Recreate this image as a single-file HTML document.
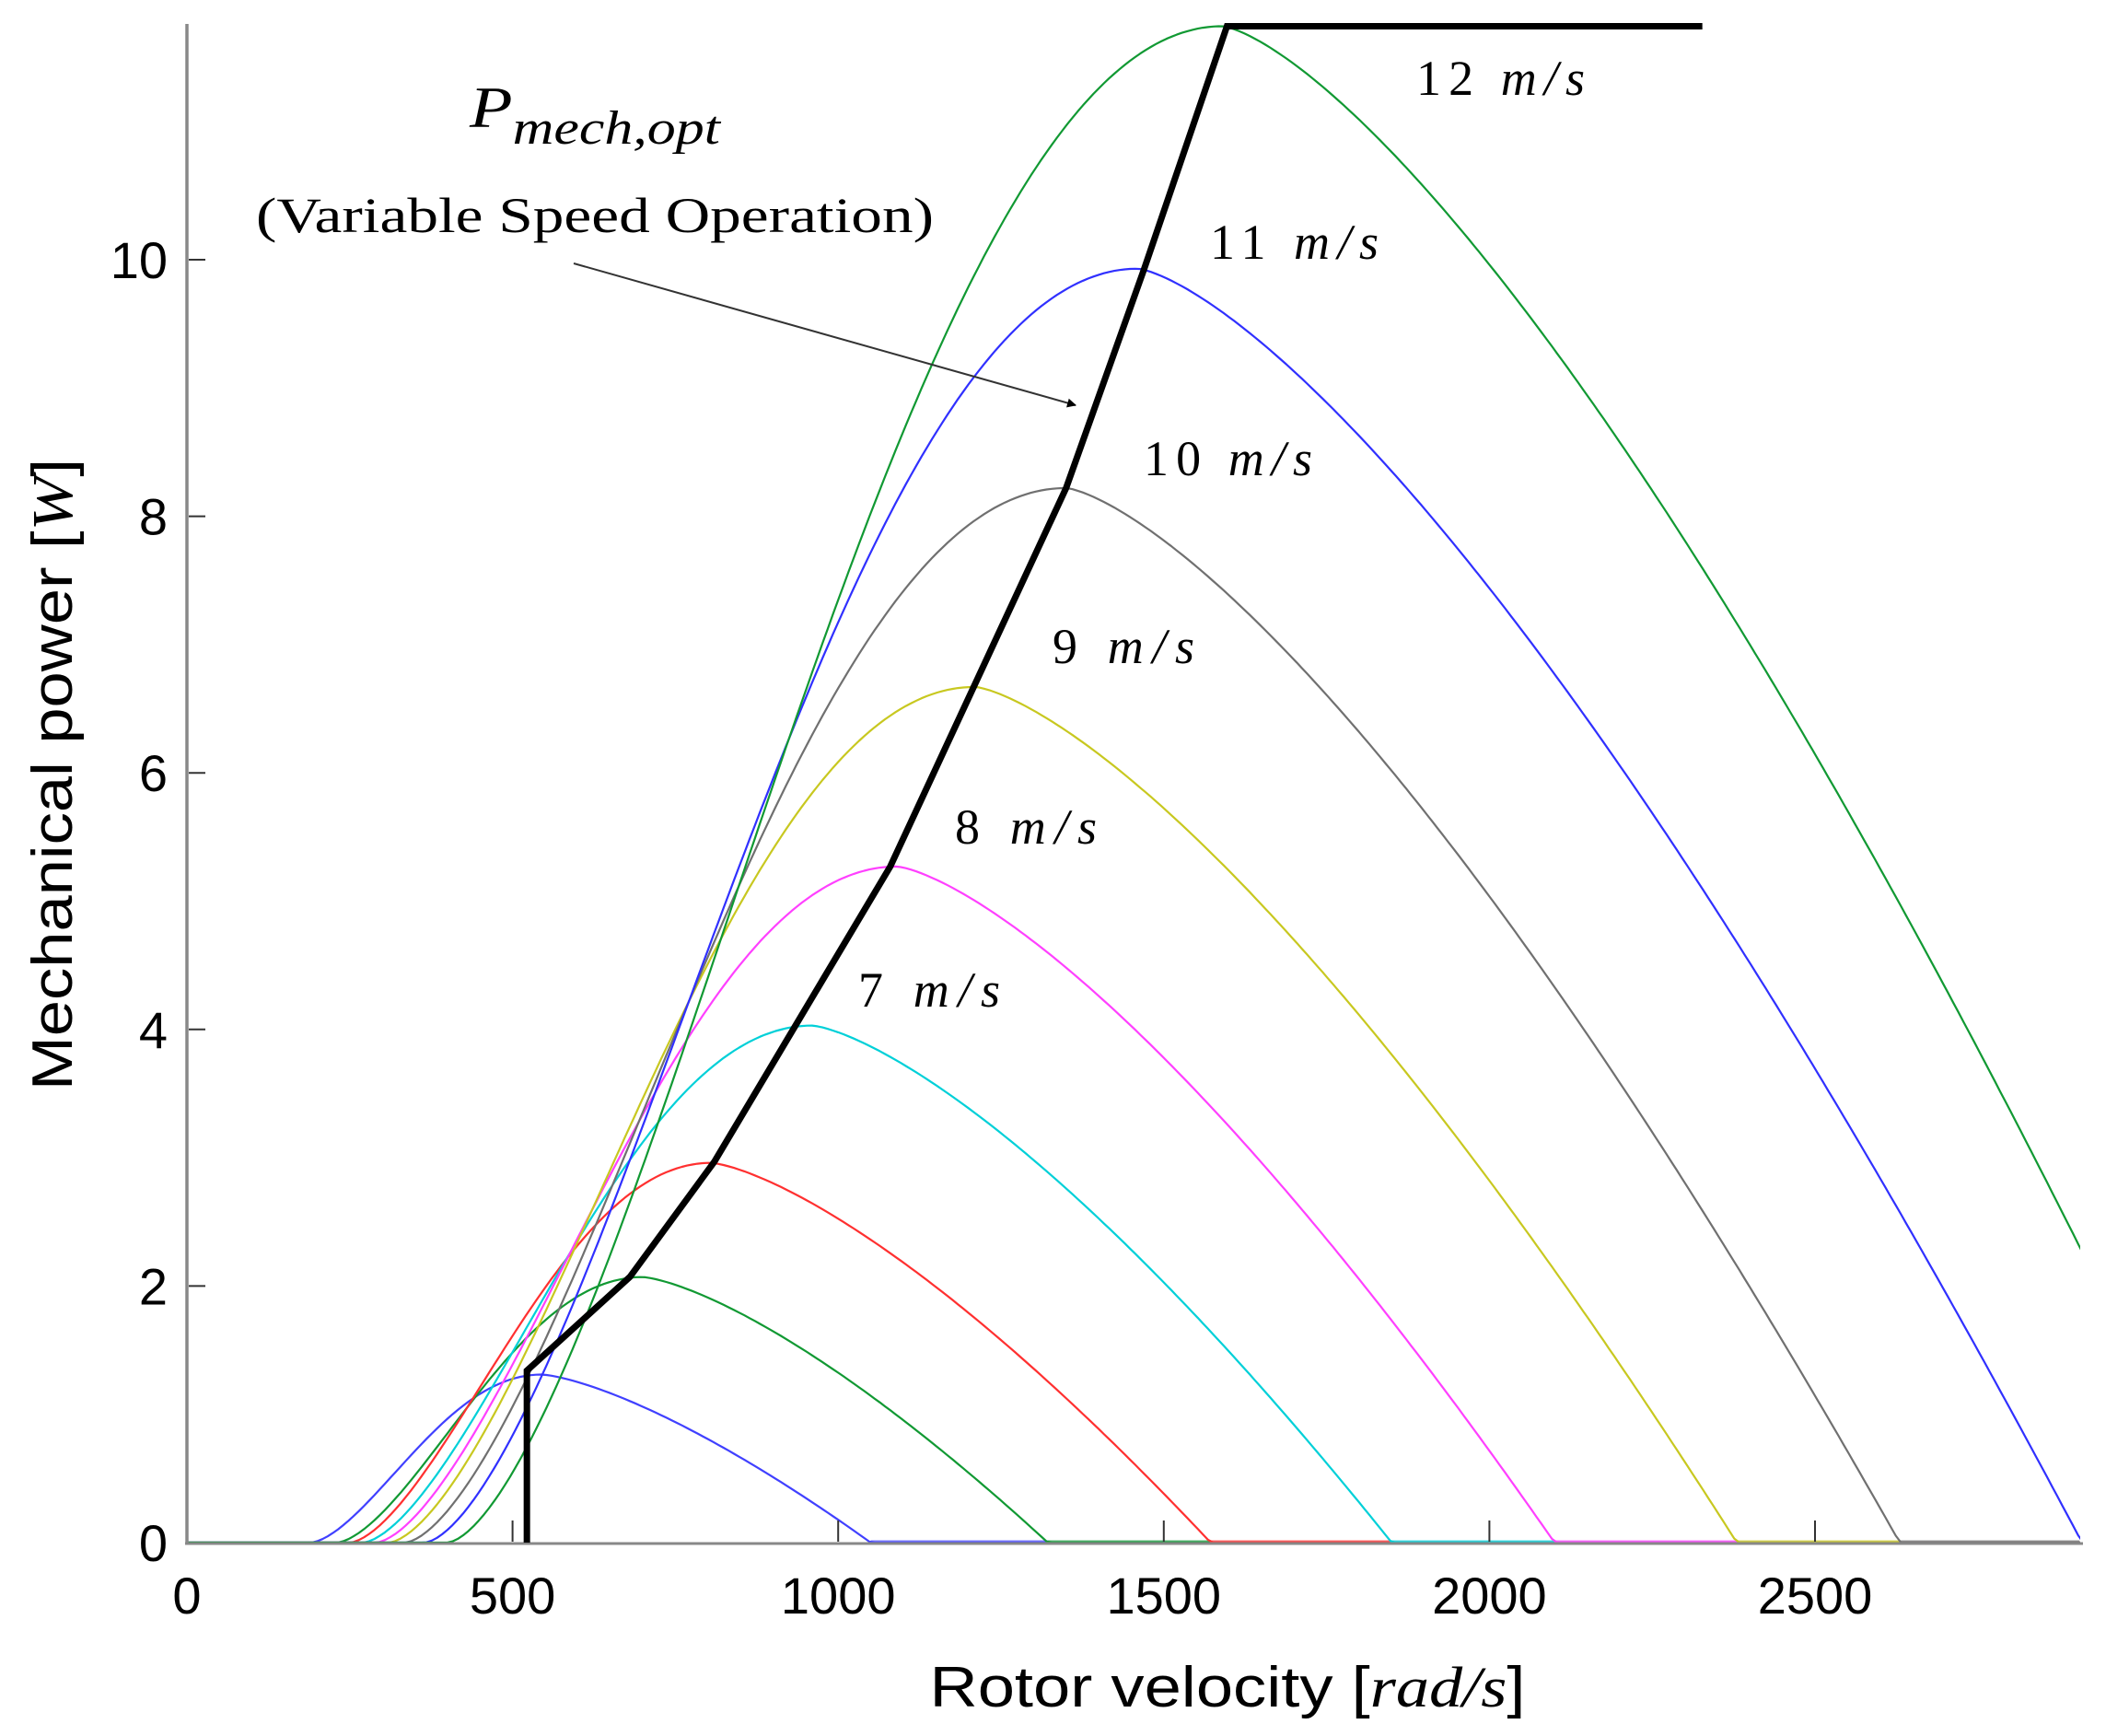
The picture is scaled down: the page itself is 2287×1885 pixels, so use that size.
<!DOCTYPE html>
<html><head><meta charset="utf-8"><style>
html,body{margin:0;padding:0;background:#fff;}
svg{display:block;}
</style></head><body>
<svg id="s" width="2287" height="1885" xmlns="http://www.w3.org/2000/svg">
<defs>
<clipPath id="c"><rect x="203" y="0" width="2056" height="1690"/></clipPath>
<marker id="ah" markerWidth="10" markerHeight="10" refX="9" refY="5" orient="auto" markerUnits="userSpaceOnUse"><path d="M0,0 L10,5 L0,10 z" fill="#000"/></marker>
</defs>
<g id="curves" clip-path="url(#c)" fill="none" stroke-width="2.2" stroke-linejoin="round"></g>
<line x1="203" y1="26" x2="203" y2="1677" stroke="#888" stroke-width="3.5"/>
<line x1="201" y1="1676" x2="2262" y2="1676" stroke="#888" stroke-width="3"/>
<g id="ticks" stroke="#333" stroke-width="2"></g>
<polyline points="" id="opt" fill="none" stroke="#000" stroke-width="7" stroke-linejoin="miter"/>
<line x1="623" y1="286" x2="1168" y2="440" stroke="#333" stroke-width="2" marker-end="url(#ah)"/>
<g font-family="Liberation Sans, sans-serif" font-size="56" fill="#000" id="tl"></g>
<text x="1333" y="1853" font-family="Liberation Sans, sans-serif" font-size="62" text-anchor="middle" textLength="647" lengthAdjust="spacingAndGlyphs">Rotor velocity [<tspan font-family="Liberation Serif, serif" font-style="italic">rad/s</tspan>]</text>
<text transform="translate(78,841) rotate(-90)" font-family="Liberation Sans, sans-serif" font-size="62" text-anchor="middle" textLength="686" lengthAdjust="spacingAndGlyphs">Mechanical power [<tspan font-family="Liberation Serif, serif" font-style="italic">W</tspan>]</text>
<g font-family="Liberation Serif, serif" fill="#000">
<text x="510" y="138" font-size="64" font-style="italic" textLength="272" lengthAdjust="spacingAndGlyphs">P<tspan font-size="52" dy="18">mech,opt</tspan></text>
<text x="278" y="252" font-size="54" textLength="736" lengthAdjust="spacingAndGlyphs">(Variable Speed Operation)</text>
<g font-size="54">
<text x="1538" y="103" textLength="183">12 <tspan font-style="italic">m/s</tspan></text>
<text x="1314" y="281" textLength="183">11 <tspan font-style="italic">m/s</tspan></text>
<text x="1242" y="516" textLength="183">10 <tspan font-style="italic">m/s</tspan></text>
<text x="1143" y="720" textLength="154">9 <tspan font-style="italic">m/s</tspan></text>
<text x="1037" y="916" textLength="154">8 <tspan font-style="italic">m/s</tspan></text>
<text x="932" y="1093" textLength="154">7 <tspan font-style="italic">m/s</tspan></text>
</g></g>
</svg>
<script>
var X=function(w){return 203+w*0.7072;}, Y=function(p){return 1675-p*139.3;};
var NS="http://www.w3.org/2000/svg";
var cs=[
["#4040ff",190,545,1.31,1050],
["#119933",230,700,2.07,1322],
["#ff3030",250,805,2.96,1572],
["#00d0d8",270,960,4.03,1850],
["#ff40ff",290,1090,5.27,2100],
["#c8c820",310,1210,6.67,2380],
["#707070",335,1350,8.22,2630],
["#3030ff",365,1460,9.93,2910],
["#119933",400,1590,11.82,3127]];
var g=document.getElementById('curves');
cs.forEach(function(c,i){
 var d="M"+X(0)+","+Y(0);
 for(var w=0;w<=3000;w+=8){
  var p=0;
  if(w>c[1]&&w<=c[2]){var t=(w-c[1])/(c[2]-c[1]);p=c[3]*(1-Math.cos(Math.PI*Math.pow(t,0.8)))/2;}
  else if(w>c[2]&&w<c[4]){var u=(w-c[2])/(c[4]-c[2]);p=c[3]*(1-Math.pow(u,1.4));}
  d+=" L"+X(w).toFixed(1)+","+Y(p).toFixed(1);
 }
 var pa=document.createElementNS(NS,'path');pa.setAttribute('d',d);pa.setAttribute('stroke',c[0]);g.appendChild(pa);
 var z=c[4];var zn=(i<cs.length-1)?cs[i+1][4]:3000;
 if(z<2906){var l=document.createElementNS(NS,'line');l.setAttribute('x1',X(z));l.setAttribute('x2',X(Math.min(zn,2906)));l.setAttribute('y1',1675);l.setAttribute('y2',1675);l.setAttribute('stroke',c[0]);l.setAttribute('stroke-width',5);l.setAttribute('opacity',0.7);g.appendChild(l);}
});
var op=[[522,0],[522,1.34],[680,2.07],[810,2.97],[1080,5.27],[1350,8.22],[1470,9.93],[1597,11.82],[2327,11.82]];
document.getElementById('opt').setAttribute('points',op.map(function(p){return X(p[0])+","+Y(p[1]);}).join(" "));
var tk=document.getElementById('ticks'),tl=document.getElementById('tl');
function ln(a,b,c,d){var l=document.createElementNS(NS,'line');l.setAttribute('x1',a);l.setAttribute('y1',b);l.setAttribute('x2',c);l.setAttribute('y2',d);tk.appendChild(l);}
function tx(x,y,s,a){var t=document.createElementNS(NS,'text');t.setAttribute('x',x);t.setAttribute('y',y);t.setAttribute('text-anchor',a);t.textContent=s;tl.appendChild(t);}
for(var v=0;v<=10;v+=2){ if(v>0)ln(205,Y(v),223,Y(v)); tx(182,Y(v)+20,String(v),'end');}
for(var w=0;w<=2500;w+=500){ if(w>0)ln(X(w),1674,X(w),1651); tx(X(w),1752,String(w),'middle');}
</script>
</body></html>
